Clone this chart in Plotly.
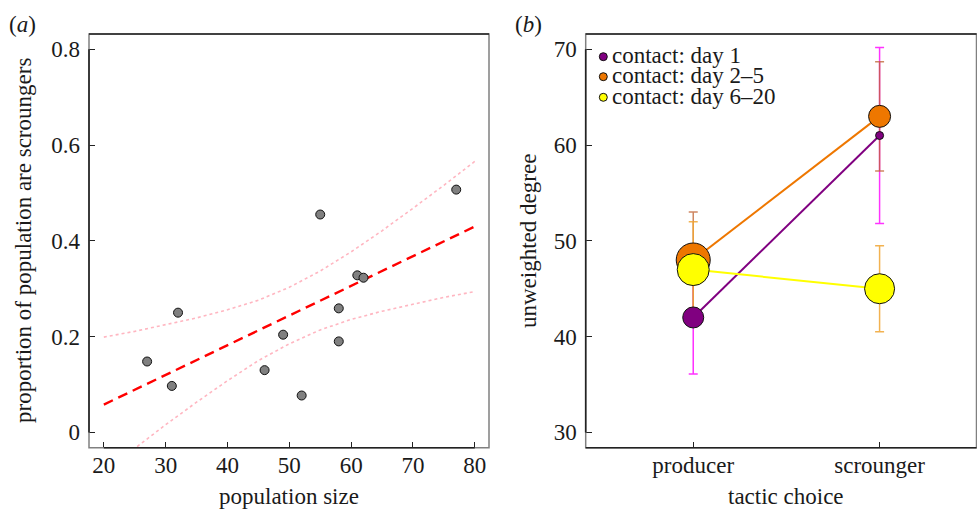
import plotly.graph_objects as go

# ---------------- Panel (a) data ----------------
pop_size = [27, 31, 32, 46, 49, 52, 55, 58, 58, 61, 62, 77]
prop_scroungers = [0.148, 0.097, 0.250, 0.130, 0.204, 0.077, 0.455, 0.259, 0.190, 0.328, 0.323, 0.507]
fit_x = [20, 80]
fit_y = [0.058, 0.430]
ci_x = [20, 25, 30, 35, 40, 45, 50, 55, 60, 65, 70, 75, 80]
ci_upper = [0.199, 0.211, 0.225, 0.239, 0.256, 0.276, 0.303, 0.337, 0.377, 0.421, 0.468, 0.516, 0.566]
ci_lower = [-0.083, -0.033, 0.016, 0.063, 0.108, 0.150, 0.185, 0.214, 0.236, 0.253, 0.268, 0.282, 0.294]
a_xticks = [20, 30, 40, 50, 60, 70, 80]
a_yticks = [0, 0.2, 0.4, 0.6, 0.8]
a_yticklabels = ["0", "0.2", "0.4", "0.6", "0.8"]

# ---------------- Panel (b) data ----------------
tactics = ["producer", "scrounger"]
series_names = ["contact: day 1", "contact: day 2–5", "contact: day 6–20"]
day1_mean = [42, 61]
day1_err = [5.9, 9.2]
day2_5_mean = [48, 63]
day2_5_err = [5.0, 5.7]
day6_20_mean = [47, 45]
day6_20_err = [5.0, 4.5]
b_yticks = [30, 40, 50, 60, 70]

# marker sizes (px) per point
day1_size = [21, 8]
day2_5_size = [34, 22]
day6_20_size = [32, 30]

FONT = "Liberation Serif, Times New Roman, Times, serif"
FS = 23
TXT = "#1a1a1a"
W, H = 977, 511

fig = go.Figure()

# ----- panel a traces -----
fig.add_trace(go.Scatter(x=ci_x, y=ci_upper, mode="lines",
                         line=dict(color="#ffb6c1", width=1.6, dash="dot"),
                         xaxis="x", yaxis="y", showlegend=False, hoverinfo="skip"))
fig.add_trace(go.Scatter(x=ci_x, y=ci_lower, mode="lines",
                         line=dict(color="#ffb6c1", width=1.6, dash="dot"),
                         xaxis="x", yaxis="y", showlegend=False, hoverinfo="skip"))
fig.add_trace(go.Scatter(x=fit_x, y=fit_y, mode="lines",
                         line=dict(color="#ff0000", width=2.4, dash="10px,6px"),
                         xaxis="x", yaxis="y", showlegend=False))
fig.add_trace(go.Scatter(x=pop_size, y=prop_scroungers, mode="markers",
                         marker=dict(color="#808080", size=9, opacity=1, line=dict(color="#111", width=1)),
                         xaxis="x", yaxis="y", showlegend=False))

# ----- panel b traces -----
b_series = [
    (day1_mean, day1_err, day1_size, "#800080", "#ff33ff"),
    (day2_5_mean, day2_5_err, day2_5_size, "#ee7700", "rgba(190,95,45,0.75)"),
    (day6_20_mean, day6_20_err, day6_20_size, "#ffff00", "rgba(240,165,50,0.85)"),
]
# error bars first (beneath all markers)
for (m, e, s, col, ecol), name in zip(b_series, series_names):
    fig.add_trace(go.Scatter(
        x=tactics, y=m, mode="markers", name=name + " (error)",
        marker=dict(size=1, opacity=0, color=col),
        error_y=dict(type="data", array=e, visible=True, color=ecol, thickness=1.5, width=4.5),
        xaxis="x2", yaxis="y2", showlegend=False, hoverinfo="skip"))
for (m, e, s, col, ecol), name in zip(b_series, series_names):
    fig.add_trace(go.Scatter(
        x=tactics, y=m, mode="lines+markers", name=name,
        line=dict(color=col, width=2),
        marker=dict(color=col, size=s, opacity=1, line=dict(color="#111", width=1)),
        xaxis="x2", yaxis="y2", showlegend=False))

# domains in paper coords
ax_l, ax_r = 89 / W, 489 / W
bx_l, bx_r = 585.7 / W, 976.5 / W
y_b, y_t = 1 - 447.7 / H, 1 - 34 / H

axis_common = dict(ticks="inside", ticklen=6, tickwidth=1, tickcolor="#222",
                   showgrid=False, zeroline=False, showline=False,
                   tickfont=dict(family=FONT, size=FS, color=TXT))

fig.update_layout(
    width=W, height=H, margin=dict(l=0, r=0, t=0, b=0),
    paper_bgcolor="white", plot_bgcolor="white",
    font=dict(family=FONT, size=FS, color=TXT),
    xaxis=dict(domain=[ax_l, ax_r], range=[17.6, 82.3], tickvals=a_xticks,
               anchor="y", ticklabelstandoff=1, **axis_common),
    yaxis=dict(domain=[y_b, y_t], range=[-0.032, 0.832], tickvals=a_yticks,
               ticktext=a_yticklabels, anchor="x", ticklabelstandoff=8, **axis_common),
    xaxis2=dict(domain=[bx_l, bx_r], type="category", categoryorder="array",
                categoryarray=tactics, range=[-0.577, 1.52], anchor="y2",
                ticklabelstandoff=1, **axis_common),
    yaxis2=dict(domain=[y_b, y_t], range=[28.4, 71.6], tickvals=b_yticks,
                anchor="x2", ticklabelstandoff=8, **axis_common),
)

shapes = []
for xr, yr in (("x", "y"), ("x2", "y2")):
    shapes.append(dict(type="rect", xref=f"{xr} domain", yref=f"{yr} domain",
                       x0=0, x1=1, y0=0, y1=1, line=dict(color="#808080", width=1.5), layer="above"))
    shapes.append(dict(type="line", xref=f"{xr} domain", yref=f"{yr} domain",
                       x0=0, x1=1, y0=1, y1=1, line=dict(color="#222", width=1.5), layer="above"))
# dark axis segments spanning the tick ranges
shapes.append(dict(type="line", xref="x", yref="y domain", x0=a_xticks[0], x1=a_xticks[-1], y0=0, y1=0,
                   line=dict(color="#222", width=1.6), layer="above"))
shapes.append(dict(type="line", xref="x domain", yref="y", x0=0, x1=0, y0=a_yticks[0], y1=a_yticks[-1],
                   line=dict(color="#222", width=1.6), layer="above"))
shapes.append(dict(type="line", xref="x2 domain", yref="y2 domain", x0=0, x1=1, y0=0, y1=0,
                   line=dict(color="#222", width=1.6), layer="above"))
shapes.append(dict(type="line", xref="x2 domain", yref="y2", x0=0, x1=0, y0=b_yticks[0], y1=b_yticks[-1],
                   line=dict(color="#222", width=1.6), layer="above"))

# legend (manual, inside panel b)
leg_cols = ["#800080", "#ee7700", "#ffff00"]
leg_y = [56.7, 76.7, 97.3]
annotations = []
for name, col, yy in zip(series_names, leg_cols, leg_y):
    shapes.append(dict(type="circle", xref="paper", yref="paper", xsizemode="pixel", ysizemode="pixel",
                       xanchor=603.3 / W, yanchor=1 - yy / H, x0=-4, x1=4, y0=-4, y1=4,
                       fillcolor=col, line=dict(color="#111", width=1), layer="above"))
    annotations.append(dict(text=name, xref="paper", yref="paper", x=609.5 / W, y=1 - (yy - 1) / H,
                            xanchor="left", yanchor="middle", showarrow=False,
                            font=dict(family=FONT, size=FS, color=TXT)))

# titles & panel labels
annotations += [
    dict(text="population size", xref="paper", yref="paper", x=289 / W, y=1 - 496 / H,
         xanchor="center", yanchor="middle", showarrow=False, font=dict(family=FONT, size=FS, color=TXT)),
    dict(text="tactic choice", xref="paper", yref="paper", x=786 / W, y=1 - 496 / H,
         xanchor="center", yanchor="middle", showarrow=False, font=dict(family=FONT, size=FS, color=TXT)),
    dict(text="proportion of population are scroungers", xref="paper", yref="paper", x=24 / W, y=1 - 241 / H,
         xanchor="center", yanchor="middle", textangle=-90, showarrow=False,
         font=dict(family=FONT, size=FS, color=TXT)),
    dict(text="unweighted degree", xref="paper", yref="paper", x=529 / W, y=1 - 241 / H,
         xanchor="center", yanchor="middle", textangle=-90, showarrow=False,
         font=dict(family=FONT, size=FS, color=TXT)),
    dict(text="(<i>a</i>)", xref="paper", yref="paper", x=7 / W, y=1 - 25 / H,
         xanchor="left", yanchor="middle", showarrow=False, font=dict(family=FONT, size=FS, color=TXT)),
    dict(text="(<i>b</i>)", xref="paper", yref="paper", x=513 / W, y=1 - 25 / H,
         xanchor="left", yanchor="middle", showarrow=False, font=dict(family=FONT, size=FS, color=TXT)),
]

fig.update_layout(shapes=shapes, annotations=annotations)
fig.write_html("out.html", config={"displayModeBar": False},
               post_script="document.body.style.margin='0';document.body.style.padding='0';")
